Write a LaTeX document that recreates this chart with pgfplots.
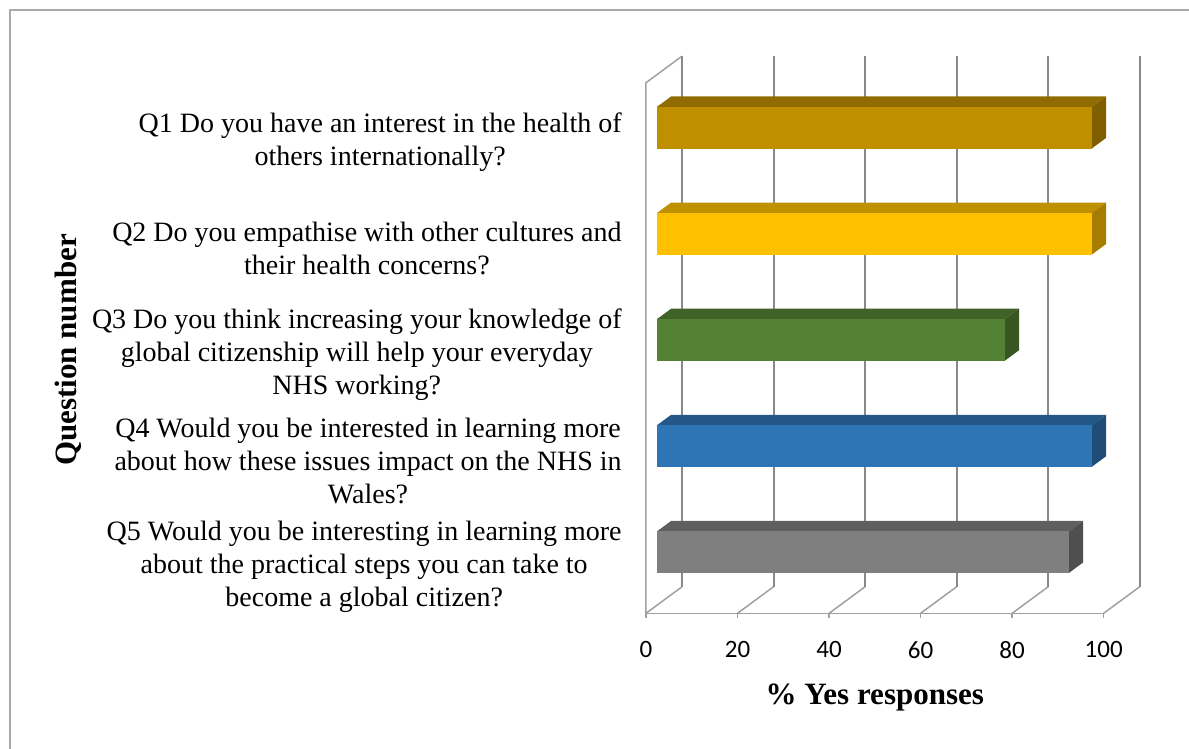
\documentclass[border=0pt]{standalone}
\usepackage{pgfplots}
\pgfplotsset{compat=1.18}
\usepackage{fontspec}
\setmainfont{Liberation Serif}
\newfontfamily\carlito{Carlito}

\definecolor{gridc}{RGB}{137,137,137}
\definecolor{floorc}{RGB}{160,160,160}
\definecolor{framec}{RGB}{170,170,170}
\definecolor{qafront}{HTML}{BF8F00}\definecolor{qatop}{HTML}{8F6B00}\definecolor{qaside}{HTML}{7F5F00}
\definecolor{qbfront}{HTML}{FFC000}\definecolor{qbtop}{HTML}{BF9000}\definecolor{qbside}{HTML}{A67D00}
\definecolor{qcfront}{HTML}{548235}\definecolor{qctop}{HTML}{3F6227}\definecolor{qcside}{HTML}{375622}
\definecolor{qdfront}{HTML}{2E75B6}\definecolor{qdtop}{HTML}{225788}\definecolor{qdside}{HTML}{1F4D78}
\definecolor{qefront}{HTML}{7F7F7F}\definecolor{qetop}{HTML}{5F5F5F}\definecolor{qeside}{HTML}{4F4F4F}

% 3D bar: #1 band centre (front plane), #2 value (% yes), #3 front, #4 top, #5 side colour
\newcommand{\barthreed}[5]{%
 \pgfmathsetmacro{\xa}{2.36}%
 \pgfmathsetmacro{\xb}{2.36+#2}%
 \pgfmathsetmacro{\xc}{2.36+3.15}%
 \pgfmathsetmacro{\xd}{2.36+#2+3.15}%
 \pgfmathsetmacro{\ya}{#1+0.075-0.196}%
 \pgfmathsetmacro{\yb}{#1+0.075+0.196}%
 \pgfmathsetmacro{\yc}{#1+0.075-0.196+0.1}%
 \pgfmathsetmacro{\yd}{#1+0.075+0.196+0.1}%
 \edef\doplot{%
  \noexpand\addplot[fill=#4, draw=none] coordinates {(\xa,\yb) (\xb,\yb) (\xd,\yd) (\xc,\yd)} --cycle;
  \noexpand\addplot[fill=#5, draw=none] coordinates {(\xb,\ya) (\xd,\yc) (\xd,\yd) (\xb,\yb)} --cycle;
  \noexpand\addplot[fill=#3, draw=none] coordinates {(\xa,\ya) (\xb,\ya) (\xb,\yb) (\xa,\yb)} --cycle;
 }\doplot
}

\begin{document}
\begin{tikzpicture}
\useasboundingbox (-323pt,-67.85pt) rectangle (271.5pt,306.65pt);
\draw[framec, line width=1pt] (-318pt,-67.85pt) -- (-318pt,301.65pt) -- (271.5pt,301.65pt);
\begin{axis}[
  at={(0,0)}, anchor=south west,
  scale only axis, width=246.85pt, height=278.55pt,
  xmin=0, xmax=107.87, ymin=0, ymax=5.25,
  clip=false,
  axis line style={draw=none},
  xtick={0,20,40,60,80,100}, xtick pos=left, tick align=outside,
  major tick length=2.5pt,
  xtick style={color=floorc, line width=0.75pt},
  /pgf/number format/assume math mode=true,
  xticklabel style={font=\carlito\fontsize{12.5}{14}\selectfont, inner sep=0pt, anchor=north, yshift=-11.3pt},
  ytick={0.5,1.5,2.5,3.5,4.5},
  ytick style={draw=none},
  yticklabels={
    {Q5 Would you be interesting in learning more\\about the practical steps you can take to\\become a global citizen?},
    {Q4 Would you be interested in learning more\\about how these issues impact on the NHS in\\Wales?},
    {Q3 Do you think increasing your knowledge of\\global citizenship will help your everyday\\NHS working?},
    {Q2 Do you empathise with other cultures and\\their health concerns?},
    {Q1 Do you have an interest in the health of\\others internationally?}},
  yticklabel style={font=\fontsize{14}{16.5}\selectfont, align=center, inner sep=0pt, anchor=east, xshift=-9.5pt, yshift=-3.25pt},
  xlabel={\% Yes responses},
  xlabel style={at={(axis description cs:0.4635,0)}, anchor=base, yshift=-45.85pt, font=\bfseries\fontsize{15.5}{18}\selectfont},
  ylabel={Question number},
  ylabel style={at={(axis description cs:-1.1545,0.4726)}, anchor=base, rotate=0, font=\bfseries\fontsize{15.5}{18}\selectfont},
]
% walls and floor
\draw[floorc, line width=0.75pt] (axis cs:0,0) -- (axis cs:100,0);
\draw[floorc, line width=0.75pt] (axis cs:0,0) -- (axis cs:0,5) -- (axis cs:7.87,5.25);
\pgfplotsinvokeforeach{0,20,40,60,80,100}{
  \draw[floorc, line width=0.75pt] (axis cs:#1,0) -- (axis cs:{#1+7.87},0.25);
  \draw[gridc, line width=1pt] (axis cs:{#1+7.87},0.25) -- (axis cs:{#1+7.87},5.25);
}
% bars
\barthreed{4.5}{95}{qafront}{qatop}{qaside}
\barthreed{3.5}{95}{qbfront}{qbtop}{qbside}
\barthreed{2.5}{76}{qcfront}{qctop}{qcside}
\barthreed{1.5}{95}{qdfront}{qdtop}{qdside}
\barthreed{0.5}{90}{qefront}{qetop}{qeside}
\end{axis}
\end{tikzpicture}
\end{document}
